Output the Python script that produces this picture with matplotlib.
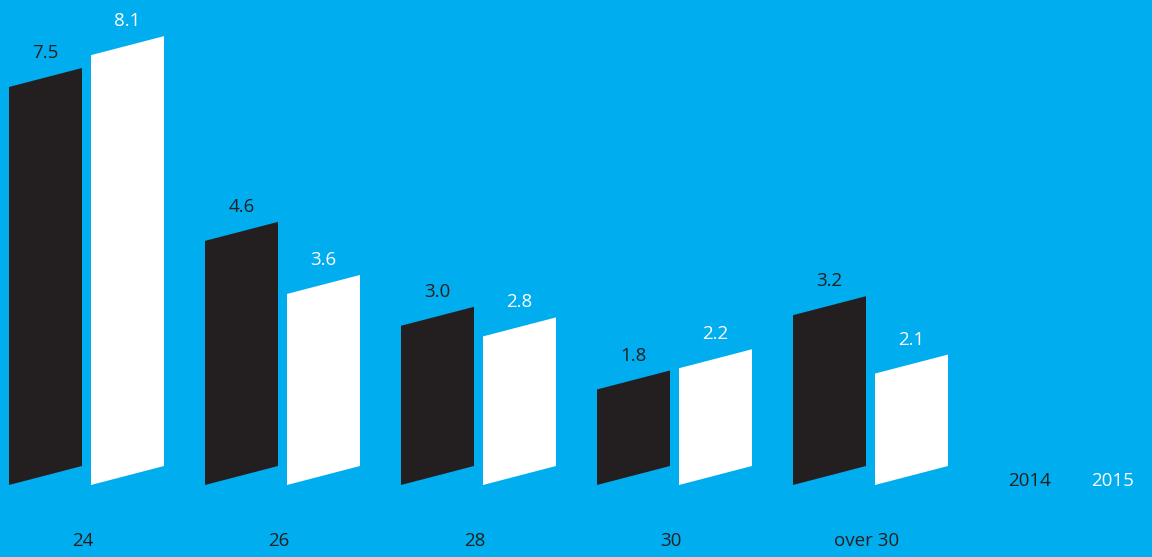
import matplotlib.pyplot as plt
from matplotlib.patches import Polygon

categories = ["24", "26", "28", "30", "over 30"]
values_2014 = [7.5, 4.6, 3.0, 1.8, 3.2]
values_2015 = [8.1, 3.6, 2.8, 2.2, 2.1]
series_names = ["2014", "2015"]

BG = "#00AEEF"
DARK = "#231F20"
LIGHT = "#FFFFFF"

# layout in pixel-derived units: group pitch = 1
PX = 1 / 196
bar_w = 73 * PX
gap = 9 * PX
slant = 19 / 53.07  # right edge raised, in value units

fig = plt.figure(figsize=(11.52, 5.57), dpi=100)
fig.patch.set_facecolor(BG)
ax = fig.add_axes([0, 0, 1, 1])
ax.set_facecolor(BG)
ax.set_xlim(-9 * PX, (1152 - 9) * PX)
ax.set_ylim(-72 / 53.07, (557 - 72) / 53.07)
ax.axis("off")

font = {"family": ["Open Sans", "DejaVu Sans"], "fontsize": 13.5}


def draw_bar(x0, v, color, text_color):
    pts = [(x0, 0), (x0 + bar_w, slant), (x0 + bar_w, v + slant), (x0, v)]
    ax.add_patch(Polygon(pts, closed=True, facecolor=color, edgecolor="none"))
    ax.text(x0 + bar_w / 2, v + slant / 2 + 0.46, f"{v:.1f}",
            ha="center", va="center", color=text_color, **font)


for i, cat in enumerate(categories):
    x0 = i
    draw_bar(x0, values_2014[i], DARK, DARK)
    draw_bar(x0 + bar_w + gap, values_2015[i], LIGHT, LIGHT)
    ax.text(x0 + bar_w + gap / 2 - 4 * PX, -1.055, cat,
            ha="center", va="center", color=DARK, **font)

ax.text(1030 / 1152, 1 - 481 / 557, series_names[0], transform=ax.transAxes,
        ha="center", va="center", color=DARK, **font)
ax.text(1113 / 1152, 1 - 481 / 557, series_names[1], transform=ax.transAxes,
        ha="center", va="center", color=LIGHT, **font)

fig.savefig("out.png", dpi=100, facecolor=BG)
